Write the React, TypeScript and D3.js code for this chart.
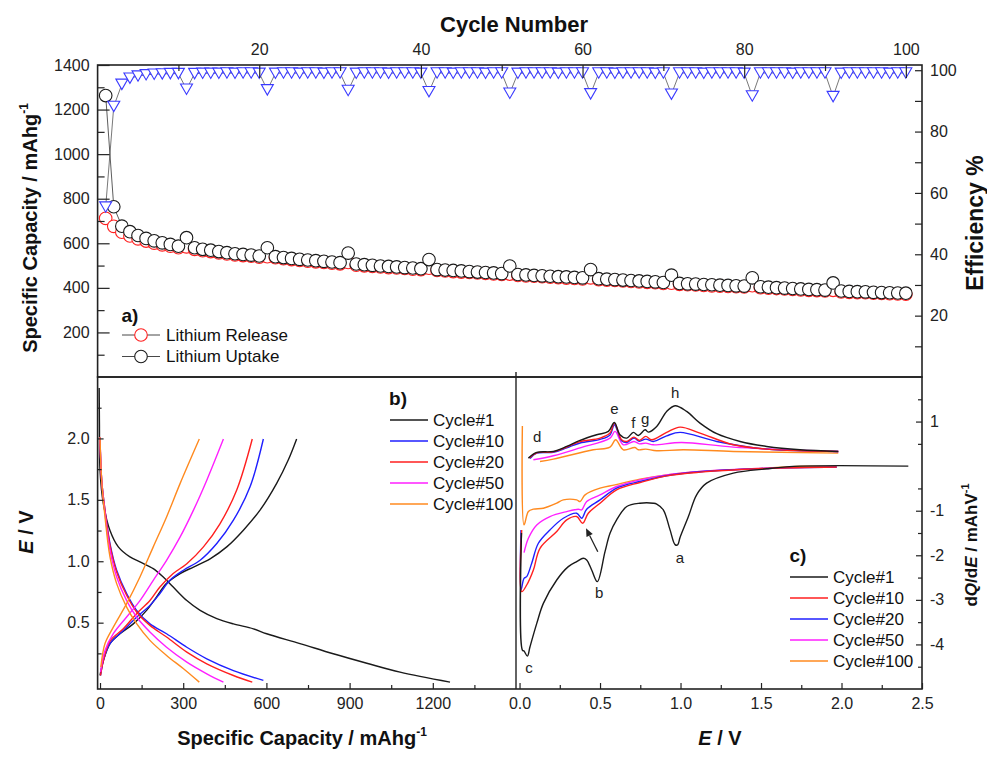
import React, { useEffect, useRef } from 'react';
import * as d3 from 'd3';

const FONT = '"Liberation Sans", Arial, Helvetica, sans-serif';
const W = 987;
const H = 759;

// ---------- panel a: cycling data ----------
const cycles = d3.range(1, 101);

const uptake = [
  1263, 764, 677, 652, 635, 622, 611, 602, 595, 587,
  625, 580, 573, 569, 563, 558, 553, 550, 547, 543,
  580, 540, 536, 532, 528, 525, 522, 519, 516, 513,
  556, 507, 504, 501, 498, 496, 494, 491, 489, 486,
  527, 482, 480, 478, 476, 473, 471, 469, 467, 464,
  498, 460, 458, 456, 454, 452, 450, 449, 447, 445,
  482, 441, 439, 437, 435, 433, 431, 429, 427, 424,
  457, 420, 418, 417, 415, 414, 412, 411, 409, 408,
  445, 405, 403, 401, 399, 397, 395, 393, 392, 390,
  422, 386, 384, 383, 382, 380, 379, 378, 377, 376,
];

const release = [
  712, 676, 650, 633, 620, 610, 601, 593, 587, 580,
  584, 573, 567, 563, 557, 552, 548, 545, 542, 538,
  540, 535, 531, 527, 523, 520, 517, 514, 511, 508,
  514, 502, 499, 496, 494, 491, 489, 487, 484, 482,
  488, 478, 476, 473, 471, 469, 467, 465, 463, 460,
  462, 456, 454, 452, 450, 448, 446, 444, 442, 440,
  445, 437, 435, 433, 431, 429, 427, 425, 423, 420,
  421, 416, 414, 413, 411, 409, 408, 406, 405, 404,
  410, 401, 399, 397, 395, 393, 391, 389, 388, 386,
  389, 382, 380, 379, 378, 376, 375, 374, 373, 372,
];

const efficiency = [
  55.4, 88.2, 95.4, 97.4, 98.1, 98.5, 98.7, 98.8, 98.9, 98.9,
  93.8, 98.9, 99.0, 99.0, 99.0, 99.1, 99.0, 99.1, 99.1, 99.0,
  93.6, 99.0, 99.1, 99.1, 99.0, 99.1, 99.1, 99.0, 99.1, 99.1,
  93.4, 99.0, 99.1, 99.1, 99.1, 99.0, 99.1, 99.1, 99.1, 99.0,
  93.0, 99.1, 99.1, 99.0, 99.1, 99.1, 99.1, 99.0, 99.1, 99.1,
  92.5, 99.0, 99.1, 99.1, 99.1, 99.1, 99.0, 99.1, 99.1, 99.1,
  92.3, 99.1, 99.1, 99.0, 99.1, 99.1, 99.1, 99.1, 99.0, 99.1,
  92.2, 99.1, 99.1, 99.1, 99.0, 99.1, 99.1, 99.1, 99.1, 99.0,
  91.6, 99.1, 99.1, 99.1, 99.1, 99.0, 99.1, 99.1, 99.1, 99.1,
  91.4, 99.0, 99.1, 99.1, 99.1, 99.1, 99.1, 99.0, 99.1, 99.1,
];

// ---------- panel b: E vs capacity [mAh/g, V] ----------
const b1Dis = [[-3, 2.41], [-2, 2.1], [0, 1.74], [12, 1.47], [36, 1.25], [66, 1.117], [108, 1.035], [144, 0.995], [192, 0.94], [228, 0.872], [264, 0.79], [313, 0.68], [361, 0.6], [421, 0.533], [481, 0.49], [553, 0.45], [601, 0.41], [721, 0.33], [841, 0.247], [962, 0.17], [1082, 0.097], [1262, 0.016]];
const b1Ch = [[0, 0.07], [12, 0.19], [36, 0.33], [72, 0.41], [120, 0.49], [168, 0.6], [204, 0.71], [240, 0.82], [289, 0.9], [337, 0.953], [397, 1.02], [457, 1.117], [517, 1.253], [577, 1.416], [637, 1.634], [680, 1.83], [709, 1.995]];
const b10Dis = [[0, 1.99], [6, 1.66], [18, 1.416], [36, 1.144], [60, 0.927], [96, 0.737], [132, 0.6], [180, 0.49], [240, 0.41], [313, 0.3], [385, 0.206], [481, 0.11], [589, 0.03]];
const b10Ch = [[2, 0.07], [12, 0.19], [36, 0.33], [84, 0.437], [132, 0.545], [180, 0.64], [216, 0.737], [252, 0.845], [301, 0.927], [361, 1.008], [421, 1.144], [481, 1.334], [541, 1.606], [589, 1.995]];
const b20Dis = [[0, 2.01], [6, 1.66], [18, 1.416], [36, 1.13], [60, 0.913], [96, 0.723], [132, 0.587], [180, 0.478], [240, 0.383], [313, 0.26], [385, 0.165], [481, 0.07], [549, 0.016]];
const b20Ch = [[2, 0.07], [12, 0.19], [36, 0.35], [84, 0.45], [132, 0.573], [180, 0.68], [216, 0.79], [264, 0.9], [313, 0.98], [373, 1.117], [433, 1.307], [493, 1.58], [549, 1.995]];
const b50Dis = [[0, 2.01], [6, 1.66], [18, 1.389], [36, 1.09], [60, 0.872], [96, 0.68], [132, 0.546], [180, 0.424], [240, 0.3], [313, 0.179], [385, 0.084], [445, 0.016]];
const b50Ch = [[2, 0.1], [18, 0.274], [48, 0.41], [96, 0.546], [144, 0.68], [192, 0.845], [240, 1.008], [289, 1.198], [337, 1.416], [385, 1.66], [445, 1.995]];
const b100Dis = [[0, 2.01], [6, 1.66], [18, 1.361], [36, 1.035], [60, 0.818], [96, 0.627], [132, 0.492], [180, 0.356], [240, 0.233], [301, 0.125], [358, 0.016]];
const b100Ch = [[3, 0.138], [18, 0.33], [48, 0.464], [96, 0.655], [144, 0.872], [192, 1.117], [240, 1.361], [289, 1.634], [358, 1.995]];

// ---------- panel c: dQ/dE vs E [V, mAh/V] ----------
const c1Up = [[0.055, 0.18], [0.107, 0.307], [0.21, 0.33], [0.293, 0.442], [0.376, 0.577], [0.479, 0.704], [0.552, 0.779], [0.589, 0.98], [0.624, 0.704], [0.666, 0.629], [0.707, 0.757], [0.738, 0.689], [0.78, 0.816], [0.8, 0.764], [0.852, 0.891], [0.914, 1.228], [0.966, 1.356], [1.038, 1.228], [1.121, 0.966], [1.225, 0.727], [1.37, 0.554], [1.535, 0.442], [1.742, 0.367], [1.98, 0.33]];
const c1Down = [[2.415, 0], [1.742, 0], [1.535, -0.06], [1.328, -0.157], [1.162, -0.382], [1.1, -0.644], [1.049, -1.13], [0.997, -1.6], [0.982, -1.768], [0.966, -1.76], [0.935, -1.43], [0.893, -0.981], [0.852, -0.85], [0.831, -0.831], [0.748, -0.831], [0.666, -0.906], [0.603, -1.206], [0.562, -1.506], [0.531, -1.918], [0.483, -2.592], [0.448, -2.33], [0.417, -2.105], [0.396, -2.067], [0.355, -2.142], [0.303, -2.255], [0.231, -2.554], [0.148, -3.079], [0.107, -3.528], [0.065, -4.052], [0.049, -4.262], [0.028, -4.15], [0.0176, -4.127], [0.012, -1.5]];
const c10Up = [[0.061, 0.18], [0.107, 0.3], [0.21, 0.32], [0.293, 0.43], [0.376, 0.55], [0.5, 0.629], [0.562, 0.742], [0.589, 0.966], [0.634, 0.592], [0.666, 0.554], [0.711, 0.652], [0.744, 0.577], [0.784, 0.667], [0.821, 0.592], [0.914, 0.757], [0.997, 0.876], [1.121, 0.742], [1.328, 0.479], [1.535, 0.382], [1.742, 0.345], [1.98, 0.33]];
const c10Down = [[1.97, -0.02], [1.535, -0.052], [1.121, -0.135], [0.914, -0.217], [0.748, -0.367], [0.603, -0.532], [0.5, -0.831], [0.427, -1.056], [0.392, -1.281], [0.355, -1.13], [0.293, -1.206], [0.231, -1.468], [0.127, -1.843], [0.086, -2.33], [0.0445, -2.667], [0.0135, -2.816], [0.0135, -1.431]];
const c20Up = [[0.065, 0.17], [0.107, 0.29], [0.21, 0.31], [0.293, 0.41], [0.376, 0.52], [0.5, 0.6], [0.562, 0.7], [0.589, 0.929], [0.634, 0.57], [0.666, 0.53], [0.711, 0.629], [0.744, 0.56], [0.784, 0.607], [0.831, 0.554], [0.914, 0.68], [0.997, 0.757], [1.225, 0.554], [1.535, 0.382], [1.98, 0.33]];
const c20Down = [[1.97, -0.022], [1.535, -0.052], [1.121, -0.127], [0.914, -0.217], [0.748, -0.345], [0.603, -0.494], [0.5, -0.757], [0.417, -0.966], [0.386, -1.169], [0.355, -1.056], [0.272, -1.169], [0.189, -1.431], [0.117, -1.73], [0.0756, -2.18], [0.0445, -2.479], [0.028, -2.517], [0.009, -2.779], [0.009, -1.431]];
const c50Up = [[0.086, 0.142], [0.21, 0.232], [0.376, 0.41], [0.562, 0.629], [0.593, 0.779], [0.645, 0.479], [0.711, 0.554], [0.744, 0.5], [0.784, 0.517], [0.831, 0.479], [1.007, 0.532], [1.328, 0.427], [1.98, 0.33]];
const c50Down = [[1.97, -0.022], [1.535, -0.045], [1.121, -0.12], [0.914, -0.195], [0.748, -0.307], [0.603, -0.457], [0.5, -0.644], [0.417, -0.794], [0.386, -0.981], [0.365, -0.966], [0.293, -1.019], [0.189, -1.131], [0.107, -1.318], [0.055, -1.618], [0.028, -1.94]];
const c100Up = [[0.127, 0.105], [0.21, 0.157], [0.458, 0.367], [0.562, 0.427], [0.597, 0.592], [0.645, 0.367], [0.717, 0.419], [0.738, 0.367], [0.784, 0.382], [0.852, 0.345], [1.017, 0.367], [1.328, 0.33], [1.98, 0.292]];
const c100Down = [[1.97, -0.022], [1.784, 0], [1.535, -0.045], [1.121, -0.12], [0.914, -0.195], [0.748, -0.29], [0.593, -0.419], [0.5, -0.494], [0.407, -0.644], [0.376, -0.794], [0.355, -0.757], [0.272, -0.757], [0.231, -0.831], [0.148, -0.944], [0.086, -0.966], [0.055, -1.019], [0.028, -1.318], [0.0176, 0.9]];

const peakLabels = [
  { t: 'h', e: 0.966, v: 1.521 }, { t: 'e', e: 0.589, v: 1.162 }, { t: 'f', e: 0.707, v: 0.848 },
  { t: 'g', e: 0.78, v: 0.938 }, { t: 'd', e: 0.11, v: 0.547 }, { t: 'a', e: 0.997, v: -2.181 },
  { t: 'b', e: 0.494, v: -2.966 }, { t: 'c', e: 0.059, v: -4.649 },
];
const arrowFrom = [0.486, -1.92];
const arrowTo = [0.413, -1.395];

const BLACK = '#1a1a1a', RED = '#ff1f1f', BLUE = '#1f1fff', MAGENTA = '#ff1fff', ORANGE = '#ff8a1f';

const bSeries = [
  { label: 'Cycle#1', color: BLACK, curves: [b1Dis, b1Ch] },
  { label: 'Cycle#10', color: BLUE, curves: [b10Dis, b10Ch] },
  { label: 'Cycle#20', color: RED, curves: [b20Dis, b20Ch] },
  { label: 'Cycle#50', color: MAGENTA, curves: [b50Dis, b50Ch] },
  { label: 'Cycle#100', color: ORANGE, curves: [b100Dis, b100Ch] },
];
const cSeries = [
  { label: 'Cycle#1', color: BLACK, curves: [c1Up, c1Down] },
  { label: 'Cycle#10', color: RED, curves: [c10Up, c10Down] },
  { label: 'Cycle#20', color: BLUE, curves: [c20Up, c20Down] },
  { label: 'Cycle#50', color: MAGENTA, curves: [c50Up, c50Down] },
  { label: 'Cycle#100', color: ORANGE, curves: [c100Up, c100Down] },
];

// ---------- layout ----------
const TOP = { l: 97.6, r: 922, t: 65, b: 377 };
const BL = { l: 97.6, r: 516, t: 377, b: 689 };
const BR = { l: 516, r: 922, t: 377, b: 689 };

const xCycle = d3.scaleLinear().domain([0, 102]).range([TOP.l, TOP.r]);
const yCap = d3.scaleLinear().domain([0, 1400]).range([TOP.b, TOP.t]);
const yEff = d3.scaleLinear().domain([0, 101.7]).range([TOP.b, TOP.t]);
const xB = d3.scaleLinear().domain([-8.7, 1500]).range([BL.l, BL.r]);
const yB = d3.scaleLinear().domain([-0.04, 2.5]).range([BL.b, BL.t]);
const xC = d3.scaleLinear().domain([-0.022, 2.5]).range([BR.l, BR.r]);
const yC = d3.scaleLinear().domain([-5, 2]).range([BR.b, BR.t]);

const noLabel = () => '';
const intFmt = d3.format('d');
const oneDec = d3.format('.1f');
const axes = [
  { a: d3.axisTop(xCycle).tickValues([20, 40, 60, 80, 100]).tickFormat(intFmt).tickSize(-13).tickPadding(10), tr: `translate(0,${TOP.t})` },
  { a: d3.axisTop(xCycle).tickValues([10, 30, 50, 70, 90]).tickSize(-6).tickFormat(noLabel), tr: `translate(0,${TOP.t})` },
  { a: d3.axisLeft(yCap).tickValues(d3.range(200, 1401, 200)).tickFormat(intFmt).tickSize(-12).tickPadding(8), tr: `translate(${TOP.l},0)` },
  { a: d3.axisLeft(yCap).tickValues(d3.range(100, 1400, 200)).tickSize(-7).tickFormat(noLabel), tr: `translate(${TOP.l},0)` },
  { a: d3.axisRight(yEff).tickValues([20, 40, 60, 80, 100]).tickFormat(intFmt).tickSize(-7).tickPadding(8), tr: `translate(${TOP.r},0)` },
  { a: d3.axisRight(yEff).tickValues([10, 30, 50, 70, 90]).tickSize(-7).tickFormat(noLabel), tr: `translate(${TOP.r},0)` },
  { a: d3.axisBottom(xB).tickValues([0, 300, 600, 900, 1200]).tickFormat(intFmt).tickSize(-6).tickPadding(9), tr: `translate(0,${BL.b})` },
  { a: d3.axisBottom(xB).tickValues([150, 450, 750, 1050, 1350]).tickSize(-4).tickFormat(noLabel), tr: `translate(0,${BL.b})` },
  { a: d3.axisLeft(yB).tickValues([0.5, 1, 1.5, 2]).tickFormat(oneDec).tickSize(-6).tickPadding(8), tr: `translate(${BL.l},0)` },
  { a: d3.axisLeft(yB).tickValues([0.25, 0.75, 1.25, 1.75, 2.25]).tickSize(-4).tickFormat(noLabel), tr: `translate(${BL.l},0)` },
  { a: d3.axisBottom(xC).tickValues([0, 0.5, 1, 1.5, 2, 2.5]).tickFormat(oneDec).tickSize(-6).tickPadding(9), tr: `translate(0,${BR.b})` },
  { a: d3.axisBottom(xC).tickValues([0.25, 0.75, 1.25, 1.75, 2.25]).tickSize(-4).tickFormat(noLabel), tr: `translate(0,${BR.b})` },
  { a: d3.axisRight(yC).tickValues([-4, -3, -2, -1, 1]).tickFormat((d) => String(d)).tickSize(-6).tickPadding(8), tr: `translate(${BR.r},0)` },
  { a: d3.axisRight(yC).tickValues([-4.5, -3.5, -2.5, -1.5, -0.5, 0.5, 1.5]).tickSize(-4).tickFormat(noLabel), tr: `translate(${BR.r},0)` },
];

function Axis({ axis, transform }: { axis: any; transform: string }) {
  const ref = useRef<SVGGElement>(null);
  useEffect(() => {
    const g = d3.select(ref.current as SVGGElement);
    g.call(axis);
    g.select('.domain').remove();
    g.attr('font-size', 16).attr('font-family', FONT);
    g.selectAll('line').attr('stroke', '#222').attr('stroke-width', 1.2);
    g.selectAll('text').attr('fill', '#222');
  }, [axis]);
  return <g ref={ref} transform={transform} />;
}

const lineCap = d3.line<number>().x((d, i) => xCycle(cycles[i])).y((d) => yCap(d));
const lineEff = d3.line<number>().x((d, i) => xCycle(cycles[i])).y((d) => yEff(d));
const lineB = d3.line<number[]>().x((d) => xB(d[0])).y((d) => yB(d[1])).curve(d3.curveCatmullRom.alpha(0.5));
const lineC = d3.line<number[]>().x((d) => xC(d[0])).y((d) => yC(d[1])).curve(d3.curveCatmullRom.alpha(0.5));

const TRI = 'M-6,-5.2L6,-5.2L0,5.2Z';
const R = 6.3;

function Arrow() {
  const x1 = xC(arrowFrom[0]), y1 = yC(arrowFrom[1]);
  const x2 = xC(arrowTo[0]), y2 = yC(arrowTo[1]);
  const len = Math.hypot(x2 - x1, y2 - y1);
  const ux = (x2 - x1) / len, uy = (y2 - y1) / len;
  const hl = 8, hw = 3.5;
  const bx = x2 - ux * hl, by = y2 - uy * hl;
  const head = `M${x2},${y2}L${bx - uy * hw},${by + ux * hw}L${bx + uy * hw},${by - ux * hw}Z`;
  return (
    <g>
      <line x1={x1} y1={y1} x2={bx} y2={by} stroke="#222" strokeWidth={1.3} />
      <path d={head} fill="#222" />
    </g>
  );
}

function Legend({ x, y, title, series }: { x: number; y: number; title: string; series: { label: string; color: string }[] }) {
  return (
    <g fontFamily={FONT}>
      <text x={x + 8} y={y - 22} textAnchor="middle" dy="0.35em" fontSize={19} fontWeight="bold" fill="#111">{title}</text>
      {series.map((s, i) => (
        <g key={s.label} transform={`translate(0,${y + i * 21})`}>
          <line x1={x} x2={x + 38} y1={0} y2={0} stroke={s.color} strokeWidth={1.6} />
          <text x={x + 43} y={0} dy="0.35em" fontSize={17} fill="#111">{s.label}</text>
        </g>
      ))}
    </g>
  );
}

export default function App() {
  return (
    <svg width={W} height={H} viewBox={`0 0 ${W} ${H}`} style={{ position: 'absolute', left: 0, top: 0, background: '#fff' }} fontFamily={FONT}>
      <defs>
        <clipPath id="clipB"><rect x={BL.l} y={BL.t} width={BL.r - BL.l} height={BL.b - BL.t} /></clipPath>
        <clipPath id="clipC"><rect x={BR.l} y={BR.t} width={BR.r - BR.l} height={BR.b - BR.t} /></clipPath>
      </defs>
      <rect width={W} height={H} fill="#fff" />

      {/* panel a */}
      <path d={lineEff(efficiency) || ''} fill="none" stroke="#555" strokeWidth={0.8} />
      <path d={lineCap(release) || ''} fill="none" stroke="#333" strokeWidth={0.8} />
      <path d={lineCap(uptake) || ''} fill="none" stroke="#333" strokeWidth={0.8} />
      {release.map((v, i) => (
        <circle key={`r${i}`} cx={xCycle(cycles[i])} cy={yCap(v)} r={R} fill="#fff" stroke={RED} strokeWidth={1.1} />
      ))}
      {uptake.map((v, i) => (
        <circle key={`u${i}`} cx={xCycle(cycles[i])} cy={yCap(v)} r={R} fill="#fff" stroke={BLACK} strokeWidth={1.1} />
      ))}
      {efficiency.map((v, i) => (
        <path key={`e${i}`} d={TRI} transform={`translate(${xCycle(cycles[i])},${yEff(v)})`} fill="#fff" stroke="#3a3aff" strokeWidth={1.1} />
      ))}

      <g fontFamily={FONT}>
        <text x={130} y={315} textAnchor="middle" dy="0.35em" fontSize={19} fontWeight="bold" fill="#111">a)</text>
        {[{ l: 'Lithium Release', c: RED }, { l: 'Lithium Uptake', c: BLACK }].map((s, i) => (
          <g key={s.l} transform={`translate(0,${335 + i * 21.5})`}>
            <line x1={122} x2={160} y1={0} y2={0} stroke="#333" strokeWidth={0.9} />
            <circle cx={141} cy={0} r={R} fill="#fff" stroke={s.c} strokeWidth={1.1} />
            <text x={166} y={0} dy="0.35em" fontSize={17} fill="#111">{s.l}</text>
          </g>
        ))}
      </g>

      {/* panel b */}
      <g clipPath="url(#clipB)">
        {bSeries.map((s) => s.curves.map((c, j) => (
          <path key={`${s.label}-${j}`} d={lineB(c) || ''} fill="none" stroke={s.color} strokeWidth={1.4} />
        )))}
      </g>
      <Legend x={390} y={420} title="b)" series={bSeries} />

      {/* panel c */}
      <g clipPath="url(#clipC)">
        {[...cSeries].reverse().map((s) => s.curves.map((c, j) => (
          <path key={`${s.label}-${j}`} d={lineC(c) || ''} fill="none" stroke={s.color} strokeWidth={1.4} />
        )))}
      </g>
      {peakLabels.map((p) => (
        <text key={p.t} x={xC(p.e)} y={yC(p.v)} textAnchor="middle" fontSize={15} fill="#222">{p.t}</text>
      ))}
      <Arrow />
      <Legend x={790} y={577} title="c)" series={cSeries} />

      {/* frames */}
      <rect x={TOP.l} y={TOP.t} width={TOP.r - TOP.l} height={TOP.b - TOP.t} fill="none" stroke="#222" strokeWidth={1.6} />
      <rect x={BL.l} y={BL.t} width={BR.r - BL.l} height={BL.b - BL.t} fill="none" stroke="#222" strokeWidth={1.6} />
      <line x1={BL.r} x2={BL.r} y1={372} y2={BL.b} stroke="#222" strokeWidth={1.4} />

      {axes.map((ax, i) => <Axis key={i} axis={ax.a} transform={ax.tr} />)}

      {/* titles */}
      <text x={514} y={32} textAnchor="middle" fontSize={22} fontWeight="bold" fill="#111">Cycle Number</text>
      <text transform="translate(37,228) rotate(-90)" textAnchor="middle" fontSize={20} fontWeight="bold" fill="#111">
        Specific Capacity / mAhg<tspan fontSize={12} dy={-9}>-1</tspan>
      </text>
      <text transform="translate(983,223) rotate(-90)" textAnchor="middle" fontSize={23} fontWeight="bold" fill="#111">Efficiency %</text>
      <text transform="translate(33,532) rotate(-90)" textAnchor="middle" fontSize={20} fontWeight="bold" fill="#111">
        <tspan fontStyle="italic">E</tspan> / V
      </text>
      <text x={302} y={745} textAnchor="middle" fontSize={20} fontWeight="bold" fill="#111">
        Specific Capacity / mAhg<tspan fontSize={12} dy={-9}>-1</tspan>
      </text>
      <text x={720} y={745} textAnchor="middle" fontSize={20} fontWeight="bold" fill="#111">
        <tspan fontStyle="italic">E</tspan> / V
      </text>
      <text transform="translate(977,545) rotate(-90)" textAnchor="middle" fontSize={17} fontWeight="bold" fill="#111">
        d<tspan fontStyle="italic">Q</tspan>/d<tspan fontStyle="italic">E</tspan> / mAhV<tspan fontSize={11} dy={-8}>-1</tspan>
      </text>
    </svg>
  );
}
